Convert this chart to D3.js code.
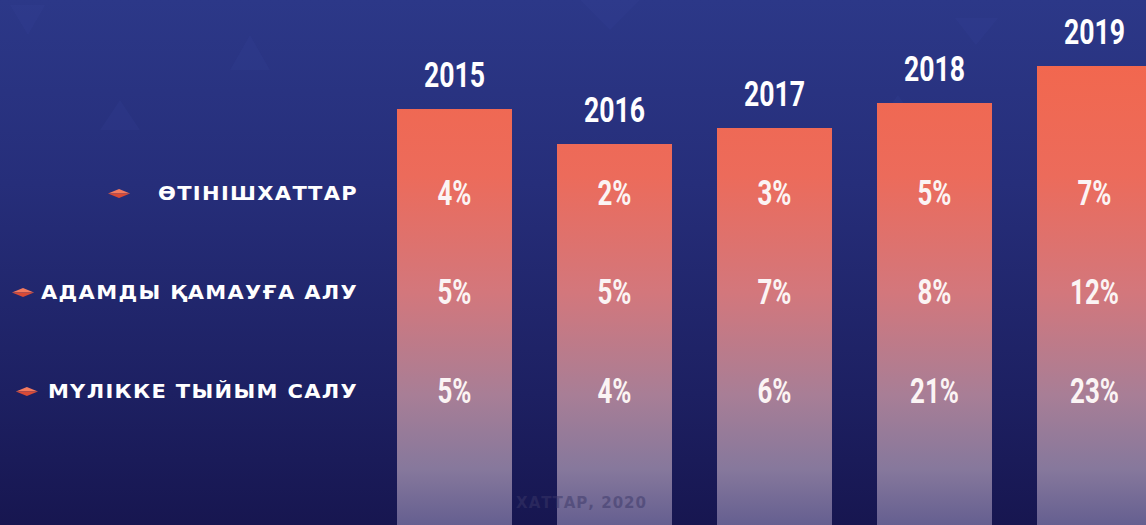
<!DOCTYPE html>
<html>
<head>
<meta charset="utf-8">
<script src="https://cdn.jsdelivr.net/npm/d3@7/dist/d3.min.js"></script>
<style>
  html, body { margin: 0; padding: 0; background: #1c2060; }
  svg { display: block; }
</style>
</head>
<body>
<svg id="chart" width="1146" height="525"></svg>
<script>
// ---- data ----
const years = ["2015", "2016", "2017", "2018", "2019"];
const rowLabels = ["ӨТІНІШХАТТАР", "АДАМДЫ ҚАМАУҒА АЛУ", "МҮЛІККЕ ТЫЙЫМ САЛУ"];
const petitions = [4, 2, 3, 5, 7];          // ӨТІНІШХАТТАР
const detention = [5, 5, 7, 8, 12];         // АДАМДЫ ҚАМАУҒА АЛУ
const seizure = [5, 4, 6, 21, 23];          // МҮЛІККЕ ТЫЙЫМ САЛУ
const barLevel = [83.2, 76.2, 79.4, 84.4, 91.8]; // decorative bar height (relative units)
const sourceNote = "ХАТТАР, 2020";

const series = [petitions, detention, seizure];

const W = 1146, H = 525;
const svg = d3.select("#chart");
const defs = svg.append("defs");

// background gradient
const bg = defs.append("linearGradient").attr("id", "bg")
  .attr("x1", 0).attr("y1", 0).attr("x2", 0).attr("y2", 1);
bg.append("stop").attr("offset", "0%").attr("stop-color", "#2c3888");
bg.append("stop").attr("offset", "35%").attr("stop-color", "#262e7a");
bg.append("stop").attr("offset", "75%").attr("stop-color", "#1d2062");
bg.append("stop").attr("offset", "100%").attr("stop-color", "#171650");
svg.append("rect").attr("width", W).attr("height", H).attr("fill", "url(#bg)");

// faint decorative triangles
const tri = [
  [[10,5],[45,5],[28,35]], [[230,70],[270,70],[250,35]], [[100,130],[140,130],[120,100]],
  [[955,18],[998,18],[976,45]], [[880,120],[915,120],[898,95]], [[580,0],[640,0],[610,30]]
];
svg.append("g").selectAll("path").data(tri).join("path")
  .attr("d", d => "M" + d.map(p => p.join(",")).join("L") + "Z")
  .attr("fill", "#3a4aa0").attr("opacity", 0.15);

// bar gradient (absolute y)
const bg2 = defs.append("linearGradient").attr("id", "barg")
  .attr("gradientUnits", "userSpaceOnUse")
  .attr("x1", 0).attr("y1", 60).attr("x2", 0).attr("y2", 525);
bg2.append("stop").attr("offset", "0%").attr("stop-color", "#f2674e");
bg2.append("stop").attr("offset", "25%").attr("stop-color", "#ec6b5b");
bg2.append("stop").attr("offset", "50%").attr("stop-color", "#d3777c");
bg2.append("stop").attr("offset", "72%").attr("stop-color", "#a87e96");
bg2.append("stop").attr("offset", "88%").attr("stop-color", "#86789c");
bg2.append("stop").attr("offset", "100%").attr("stop-color", "#655f90");

// scales
const x = d3.scaleBand().domain(years).range([397, 397 + 4 * 160 + 115])
  .paddingInner(45 / 160).paddingOuter(0);
const y = d3.scaleLinear().domain([0, 100]).range([H, H - 500]);
const rowY = d3.scalePoint().domain(rowLabels).range([193, 391]);

// bars
svg.append("g").selectAll("rect").data(years).join("rect")
  .attr("x", d => x(d))
  .attr("y", (d, i) => y(barLevel[i]))
  .attr("width", x.bandwidth())
  .attr("height", (d, i) => y(0) - y(barLevel[i]))
  .attr("fill", "url(#barg)");

// source note (faint)
svg.append("text")
  .attr("x", 647).attr("y", 508)
  .attr("text-anchor", "end")
  .attr("font-family", "DejaVu Sans")
  .attr("font-weight", "bold")
  .attr("font-size", 15)
  .attr("letter-spacing", "1px")
  .attr("fill", "#3a3768")
  .attr("opacity", 0.5)
  .text(sourceNote);

// year labels
const cond = "Roboto";
svg.append("g").selectAll("text").data(years).join("text")
  .attr("transform", (d, i) => `translate(${x(d) + x.bandwidth() / 2},${y(barLevel[i]) - 22}) scale(0.74,1)`)
  .attr("text-anchor", "middle")
  .attr("font-family", cond)
  .attr("font-weight", 700)
  .attr("font-size", 36)
  .attr("fill", "#ffffff")
  .text(d => d);

// percentage labels
series.forEach((vals, r) => {
  svg.append("g").selectAll("text").data(vals).join("text")
    .attr("transform", (v, i) => `translate(${x(years[i]) + x.bandwidth() / 2},${rowY(rowLabels[r]) + 12}) scale(0.74,1)`)
    .attr("text-anchor", "middle")
    .attr("font-family", cond)
    .attr("font-weight", 700)
    .attr("font-size", 35)
    .attr("fill", "#fbf4f4")
    .text(v => v + "%");
});

// row labels
const labG = svg.append("g");
const markerGap = [39, 18, 21];
const sx = 1.106;
rowLabels.forEach((lab, r) => {
  const t = labG.append("text")
    .attr("transform", `translate(358,${rowY(lab) + 7}) scale(${sx},1)`)
    .attr("text-anchor", "end")
    .attr("font-family", "DejaVu Sans")
    .attr("font-weight", "bold")
    .attr("font-size", 19)
    .attr("letter-spacing", "1.2px")
    .attr("fill", "#ffffff")
    .text(lab);
  const bb = t.node().getBBox();
  const left = 358 + bb.x * sx;
  const cx = left - markerGap[r];
  const cy = rowY(lab) + 0.5;
  // diamond marker (two-tone)
  labG.append("path")
    .attr("d", `M${cx - 11},${cy} L${cx},${cy - 4.5} L${cx + 11},${cy} Z`)
    .attr("fill", "#f47a5e");
  labG.append("path")
    .attr("d", `M${cx - 11},${cy} L${cx},${cy + 4.5} L${cx + 11},${cy} Z`)
    .attr("fill", "#d94a36");
});
</script>
</body>
</html>
